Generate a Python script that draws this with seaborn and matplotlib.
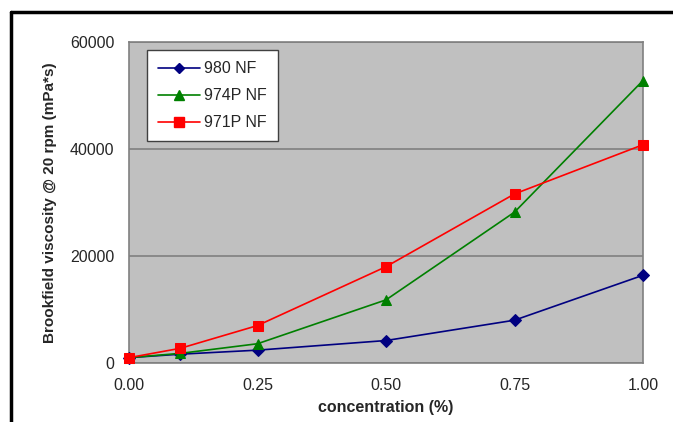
import matplotlib
matplotlib.use("Agg")
import matplotlib.pyplot as plt
import seaborn as sns
import pandas as pd
from matplotlib.lines import Line2D

concentration = [0.0, 0.1, 0.25, 0.5, 0.75, 1.0]
v_980 = [1000, 1650, 2400, 4200, 8000, 16400]
v_974p = [1000, 1800, 3600, 11800, 28200, 52800]
v_971p = [1000, 2750, 7000, 18000, 31600, 40800]
series_names = ["980 NF", "974P NF", "971P NF"]
x_ticks = [0.0, 0.25, 0.5, 0.75, 1.0]
y_ticks = [0, 20000, 40000, 60000]

rows = []
for name, vals in zip(series_names, [v_980, v_974p, v_971p]):
    for c, v in zip(concentration, vals):
        rows.append({"concentration": c, "viscosity": v, "series": name})
df = pd.DataFrame(rows)

sns.set_theme(style="white")
plt.rcParams['font.family'] = ['Liberation Sans', 'DejaVu Sans']

fig = plt.figure(figsize=(6.73, 4.22), dpi=100)
ax = fig.add_axes([129/673, 59/422, (643-129)/673, (363-42)/422])
ax.set_facecolor("#c0c0c0")

palette = {"980 NF": "#000080", "974P NF": "#008000", "971P NF": "#ff0000"}
markers = {"980 NF": "D", "974P NF": "^", "971P NF": "s"}
sizes_m = {"980 NF": 6, "974P NF": 7.5, "971P NF": 7.5}

for name in series_names:
    sub = df[df["series"] == name]
    sns.lineplot(data=sub, x="concentration", y="viscosity", ax=ax,
                 color=palette[name], marker=markers[name],
                 markersize=sizes_m[name], markeredgecolor=palette[name],
                 linewidth=1.2, label=name, legend=False, clip_on=False, zorder=3)

ax.set_xlim(0, 1.0)
ax.set_ylim(0, 60000)
ax.set_xticks(x_ticks)
ax.set_xticklabels([f"{t:.2f}" for t in x_ticks], fontsize=11.5)
ax.set_yticks(y_ticks)
ax.set_yticklabels([str(t) for t in y_ticks], fontsize=11.5)
ax.yaxis.grid(True, color="#808080", linewidth=1.2)
ax.xaxis.grid(False)
ax.set_axisbelow(True)
for s in ax.spines.values():
    s.set_color("#808080")
    s.set_linewidth(1.2)
ax.tick_params(axis="both", direction="out", length=4.5, color="#808080", width=1.2, pad=6)
ax.set_xlabel("concentration (%)", fontsize=11.5, fontweight="bold", labelpad=5)
ax.set_ylabel("Brookfield viscosity @ 20 rpm (mPa*s)", fontsize=11, fontweight="bold", labelpad=9)

handles = [Line2D([0], [0], color=palette[n], marker=markers[n], markersize=sizes_m[n] - 1,
                  linewidth=1.2) for n in series_names]
leg = ax.legend(handles, series_names, loc="upper left",
                bbox_to_anchor=((147-129)/514, (363-50)/321),
                fontsize=11.5, frameon=True, fancybox=False, framealpha=1,
                edgecolor="#404040", handlelength=2.6, labelspacing=0.75,
                borderpad=0.7, handletextpad=0.3, borderaxespad=0)
leg.get_frame().set_linewidth(1.0)

# outer chart border (left and top visible)
fig.add_artist(Line2D([11/673, 11/673], [0, 1 - 12/422], transform=fig.transFigure, color="black", linewidth=2.5))
fig.add_artist(Line2D([11/673, 1], [1 - 12/422, 1 - 12/422], transform=fig.transFigure, color="black", linewidth=2.5))

fig.savefig("out.png", dpi=100)
